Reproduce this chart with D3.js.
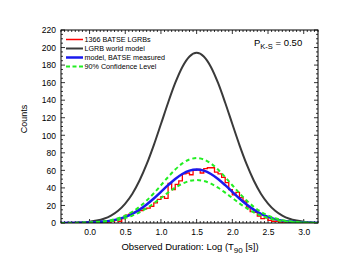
<!DOCTYPE html>
<html>
<head>
<meta charset="utf-8">
<script src="https://cdn.jsdelivr.net/npm/d3@7/dist/d3.min.js"></script>
<style>
html,body{margin:0;padding:0;background:#fff;}
svg{display:block;font-family:"Liberation Sans",Arial,Helvetica,sans-serif;}
</style>
</head>
<body>
<svg id="chart" width="341" height="264"></svg>
<script>
// ---- data ----
const curveX = [-0.4,-0.3,-0.2,-0.1,0.0,0.1,0.2,0.3,0.4,0.5,0.6,0.7,0.8,0.9,1.0,1.1,1.2,1.3,1.4,1.5,
                1.6,1.7,1.8,1.9,2.0,2.1,2.2,2.3,2.4,2.5,2.6,2.7,2.8,2.9,3.0,3.1,3.2];
const worldModel = [0.1,0.2,0.4,0.7,1.5,2.8,4.9,8.5,14.0,22.2,33.4,48.4,67.0,88.8,112.8,137.1,159.6,177.9,189.8,194,
                    189.8,177.9,159.6,137.1,112.8,88.8,67.0,48.4,33.4,22.2,14.0,8.5,4.9,2.8,1.5,0.7,0.4];
const measuredModel = [0.0,0.1,0.1,0.2,0.5,0.9,1.6,2.7,4.4,7.0,10.5,15.2,21.1,27.9,35.5,43.1,50.2,55.9,59.7,61,
                       59.7,55.9,50.2,43.1,35.5,27.9,21.1,15.2,10.5,7.0,4.4,2.7,1.6,0.9,0.5,0.2,0.1];
const upperCL = [0.0,0.1,0.1,0.3,0.6,1.1,1.9,3.2,5.4,8.5,12.8,18.5,25.6,33.9,43.0,52.3,60.9,67.9,72.4,74,
                 72.4,67.9,60.9,52.3,43.0,33.9,25.6,18.5,12.8,8.5,5.4,3.2,1.9,1.1,0.6,0.3,0.1];
const lowerCL = [0.0,0.0,0.1,0.2,0.4,0.7,1.2,2.2,3.5,5.6,8.4,12.2,16.9,22.4,28.5,34.6,40.3,44.9,47.9,49,
                 47.9,44.9,40.3,34.6,28.5,22.4,16.9,12.2,8.4,5.6,3.5,2.2,1.2,0.7,0.4,0.2,0.1];
const binEdges = [0.20,0.25,0.30,0.35,0.40,0.45,0.50,0.55,0.60,0.65,0.70,0.75,0.80,0.85,0.90,0.95,1.00,1.05,1.10,1.15,
                  1.20,1.25,1.30,1.35,1.40,1.45,1.50,1.55,1.60,1.65,1.70,1.75,1.80,1.85,1.90,1.95,2.00,2.05,2.10,2.15,
                  2.20,2.25,2.30,2.35,2.40,2.45,2.50,2.55,2.60,2.65,2.70,2.75,2.80];
const histCounts = [0,1,2,3,2,5,9,10,12,13,14,16,17,19,23,27,30,28,45,38,
                    44,48,56,57,55,60,61,57,62,63,63,58,56,52,46,38,32,35,29,25,
                    18,13,12,8,5,6,3,2,2,1,1,0,0];
const xTickValues = [0.0,0.5,1.0,1.5,2.0,2.5,3.0];
const xTickLabels = ["0.0","0.5","1.0","1.5","2.0","2.5","3.0"];
const yTickValues = [0,20,40,60,80,100,120,140,160,180,200,220];
const legendLabels = ["1366 BATSE LGRBs","LGRB world model","model, BATSE measured","90% Confidence Level"];
const ksLabel = {main:"P", sub:"K-S", rest:" = 0.50"};

// ---- layout ----
const svg = d3.select("#chart");
const L = 61, R = 318, T = 30, B = 223;
const x = d3.scaleLinear().domain([-0.4, 3.2]).range([L, R]);
const y = d3.scaleLinear().domain([0, 220]).range([B, T]);

const colors = {hist:"#ff0000", world:"#3a3a3a", meas:"#1a1aee", cl:"#22ee22"};

// clip
svg.append("defs").append("clipPath").attr("id","clip")
  .append("rect").attr("x",L).attr("y",T).attr("width",R-L).attr("height",B-T);

// ---- axes (ticks inward on all four sides) ----
const xMinor = d3.range(-0.4, 3.2001, 0.05).map(v => +v.toFixed(2));
const yMinor = d3.range(0, 220.001, 5);
const axG = svg.append("g").attr("stroke","#000").attr("stroke-width",0.8);
function isMajorX(v){ return Math.abs(v*2 - Math.round(v*2)) < 1e-6; }
xMinor.forEach(v => {
  const len = isMajorX(v) ? 4 : 2;
  const px = x(v);
  axG.append("line").attr("x1",px).attr("x2",px).attr("y1",B).attr("y2",B-len);
  axG.append("line").attr("x1",px).attr("x2",px).attr("y1",T).attr("y2",T+len);
});
yMinor.forEach(v => {
  const len = (v % 20 === 0) ? 4 : 2;
  const py = y(v);
  axG.append("line").attr("x1",L).attr("x2",L+len).attr("y1",py).attr("y2",py);
  axG.append("line").attr("x1",R).attr("x2",R-len).attr("y1",py).attr("y2",py);
});

// tick labels via d3 axes (no tick lines, no domain)
const xAxis = d3.axisBottom(x).tickValues(xTickValues).tickFormat((d,i)=>xTickLabels[i]).tickSize(0).tickPadding(6);
const gx = svg.append("g").attr("transform",`translate(0,${B})`).call(xAxis);
gx.select(".domain").remove();
gx.selectAll("text").attr("font-size",8.5).attr("fill","#000").attr("font-family","Liberation Sans, Arial, sans-serif");

const yAxis = d3.axisLeft(y).tickValues(yTickValues).tickFormat(d3.format("d")).tickSize(0).tickPadding(5);
const gy = svg.append("g").attr("transform",`translate(${L},0)`).call(yAxis);
gy.select(".domain").remove();
gy.selectAll("text").attr("font-size",8.5).attr("fill","#000").attr("font-family","Liberation Sans, Arial, sans-serif");

// ---- data marks ----
const plot = svg.append("g").attr("clip-path","url(#clip)");
const pts = arr => curveX.map((v,i)=>[v, arr[i]]);
const smooth = d3.line().x(d=>x(d[0])).y(d=>y(d[1])).curve(d3.curveMonotoneX);

plot.append("path").attr("d", smooth(pts(worldModel)))
  .attr("fill","none").attr("stroke",colors.world).attr("stroke-width",2);

const histPts = binEdges.map((e,i)=>[e, histCounts[i]]);
histPts.push([binEdges[binEdges.length-1]+0.05, histCounts[histCounts.length-1]]);
const stepLine = d3.line().x(d=>x(d[0])).y(d=>y(d[1])).curve(d3.curveStepAfter);
plot.append("path").attr("d", stepLine(histPts))
  .attr("fill","none").attr("stroke",colors.hist).attr("stroke-width",1.3);

plot.append("path").attr("d", smooth(pts(measuredModel)))
  .attr("fill","none").attr("stroke",colors.meas).attr("stroke-width",2.5);

[upperCL, lowerCL].forEach(arr => {
  plot.append("path").attr("d", smooth(pts(arr)))
    .attr("fill","none").attr("stroke",colors.cl).attr("stroke-width",2).attr("stroke-dasharray","4,3");
});

// frame
svg.append("rect").attr("x",L).attr("y",T).attr("width",R-L).attr("height",B-T)
  .attr("fill","none").attr("stroke","#000").attr("stroke-width",1);

// ---- legend ----
const legStyles = [
  {c:colors.hist, w:1.5, dash:null},
  {c:colors.world, w:2, dash:null},
  {c:colors.meas, w:2.5, dash:null},
  {c:colors.cl, w:2, dash:"4,2.5"}
];
const legRowY = [39.5, 48.5, 57.5, 66.5];
legendLabels.forEach((lab,i)=>{
  const g = svg.append("g");
  const ln = g.append("line").attr("x1",66).attr("x2",83).attr("y1",legRowY[i]).attr("y2",legRowY[i])
    .attr("stroke",legStyles[i].c).attr("stroke-width",legStyles[i].w);
  if (legStyles[i].dash) ln.attr("stroke-dasharray",legStyles[i].dash);
  g.append("text").attr("x",84.5).attr("y",legRowY[i]+2.6).attr("font-size",7.2).attr("fill","#000").text(lab);
});

// ---- P_K-S annotation ----
const ks = svg.append("text").attr("x",254).attr("y",46).attr("font-size",9.5).attr("fill","#000");
ks.append("tspan").text(ksLabel.main);
ks.append("tspan").attr("dy",2.5).attr("font-size",7.5).text(ksLabel.sub);
ks.append("tspan").attr("dy",-2.5).text(ksLabel.rest);

// ---- axis titles ----
svg.append("text").attr("transform","translate(27,119) rotate(-90)").attr("text-anchor","middle")
  .attr("font-size",9).attr("fill","#000").text("Counts");
const xt = svg.append("text").attr("x",190).attr("y",250).attr("text-anchor","middle").attr("font-size",9.5).attr("fill","#000");
xt.append("tspan").text("Observed Duration: Log (T");
xt.append("tspan").attr("dy",2.5).attr("font-size",8).text("90");
xt.append("tspan").attr("dy",-2.5).text(" [s])");
</script>
</body>
</html>
